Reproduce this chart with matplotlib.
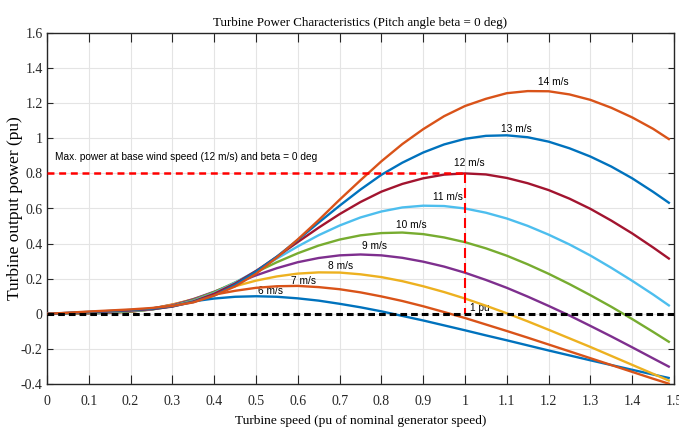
import matplotlib
matplotlib.use("Agg")
import matplotlib.pyplot as plt
from matplotlib import font_manager

# turbine speed (pu) at which the curves were read
speed = [0.00, 0.05, 0.10, 0.15, 0.20, 0.25, 0.30, 0.35, 0.40, 0.45,
         0.50, 0.55, 0.60, 0.65, 0.70, 0.75, 0.80, 0.85, 0.90, 0.95,
         1.00, 1.05, 1.10, 1.15, 1.20, 1.25, 1.30, 1.35, 1.40, 1.45, 1.49]

# turbine output power (pu) per wind speed
p6 = [0, 0.001, 0.002, 0.005, 0.014, 0.030, 0.051, 0.071, 0.087, 0.097,
      0.100, 0.097, 0.088, 0.075, 0.057, 0.037, 0.014, -0.012, -0.038, -0.066,
      -0.094, -0.123, -0.151, -0.180, -0.209, -0.237, -0.265, -0.292, -0.319, -0.346, -0.367]
p7 = [0, 0.002, 0.003, 0.006, 0.013, 0.029, 0.053, 0.081, 0.109, 0.131,
      0.148, 0.157, 0.159, 0.152, 0.140, 0.122, 0.099, 0.073, 0.043, 0.010,
      -0.024, -0.061, -0.098, -0.136, -0.175, -0.214, -0.253, -0.292, -0.331, -0.370, -0.400]
p8 = [0, 0.002, 0.004, 0.007, 0.012, 0.026, 0.051, 0.084, 0.121, 0.157,
      0.189, 0.213, 0.229, 0.236, 0.235, 0.225, 0.209, 0.186, 0.157, 0.124,
      0.087, 0.046, 0.003, -0.043, -0.091, -0.140, -0.189, -0.240, -0.291, -0.342, -0.383]
p9 = [0, 0.003, 0.005, 0.008, 0.013, 0.025, 0.048, 0.083, 0.126, 0.173,
      0.219, 0.260, 0.294, 0.318, 0.333, 0.338, 0.333, 0.319, 0.297, 0.269,
      0.234, 0.193, 0.148, 0.098, 0.045, -0.010, -0.069, -0.129, -0.191, -0.254, -0.304]
p10 = [0, 0.003, 0.006, 0.010, 0.014, 0.024, 0.044, 0.078, 0.124, 0.179,
       0.237, 0.294, 0.345, 0.389, 0.423, 0.447, 0.460, 0.463, 0.454, 0.435,
       0.408, 0.373, 0.331, 0.282, 0.228, 0.169, 0.106, 0.040, -0.030, -0.103, -0.163]
p11 = [0, 0.004, 0.008, 0.012, 0.017, 0.025, 0.043, 0.073, 0.118, 0.177,
       0.244, 0.315, 0.384, 0.448, 0.503, 0.549, 0.583, 0.606, 0.616, 0.614,
       0.600, 0.576, 0.543, 0.501, 0.451, 0.395, 0.332, 0.262, 0.188, 0.110, 0.044]
p12 = [0, 0.005, 0.009, 0.014, 0.019, 0.026, 0.041, 0.070, 0.114, 0.172,
       0.244, 0.325, 0.409, 0.491, 0.568, 0.637, 0.696, 0.740, 0.772, 0.793,
       0.800, 0.794, 0.774, 0.744, 0.705, 0.656, 0.598, 0.531, 0.458, 0.378, 0.311]
p13 = [0, 0.005, 0.011, 0.016, 0.022, 0.029, 0.043, 0.067, 0.104, 0.165,
       0.240, 0.326, 0.421, 0.520, 0.616, 0.708, 0.792, 0.861, 0.919, 0.965,
       0.997, 1.014, 1.017, 1.006, 0.981, 0.943, 0.896, 0.839, 0.772, 0.695, 0.629]
p14 = [0, 0.006, 0.013, 0.019, 0.025, 0.033, 0.045, 0.065, 0.104, 0.156,
       0.228, 0.321, 0.424, 0.534, 0.650, 0.761, 0.869, 0.967, 1.052, 1.126,
       1.184, 1.225, 1.257, 1.269, 1.268, 1.250, 1.219, 1.174, 1.119, 1.054, 0.992]

wind_labels = ["6 m/s", "7 m/s", "8 m/s", "9 m/s", "10 m/s", "11 m/s", "12 m/s", "13 m/s", "14 m/s"]
label_x = [0.504, 0.584, 0.672, 0.754, 0.834, 0.924, 0.973, 1.085, 1.175]
label_y = [0.129, 0.186, 0.272, 0.385, 0.505, 0.666, 0.860, 1.053, 1.320]

base_speed, base_power = 1.0, 0.8

xticks = [0, 0.1, 0.2, 0.3, 0.4, 0.5, 0.6, 0.7, 0.8, 0.9, 1.0, 1.1, 1.2, 1.3, 1.4, 1.5]
xtick_labels = ["0", "0.1", "0.2", "0.3", "0.4", "0.5", "0.6", "0.7", "0.8", "0.9",
                "1", "1.1", "1.2", "1.3", "1.4", "1.5"]
yticks = [-0.4, -0.2, 0, 0.2, 0.4, 0.6, 0.8, 1.0, 1.2, 1.4, 1.6]
ytick_labels = ["-0.4", "-0.2", "0", "0.2", "0.4", "0.6", "0.8", "1", "1.2", "1.4", "1.6"]

COLORS = ["#0072BD", "#D95319", "#EDB120", "#7E2F8E", "#77AC30",
          "#4DBEEE", "#A2142F", "#0072BD", "#D95319"]

installed = {f.name for f in font_manager.fontManager.ttflist}
if "Liberation Sans Narrow" in installed:
    SANS, SANS_SIZE = "Liberation Sans Narrow", 8.5
else:
    SANS, SANS_SIZE = "Liberation Sans", 7.3
SERIF = "Liberation Serif"
AX_COLOR = "#262626"

plt.rcParams["lines.scale_dashes"] = False

fig = plt.figure(figsize=(6.79, 4.32), dpi=100)
ax = fig.add_axes([47 / 679, 1 - 384 / 432, 627 / 679, 351 / 432])

series = [p6, p7, p8, p9, p10, p11, p12, p13, p14]
for vals, col in zip(series, COLORS):
    ax.plot(speed, vals, color=col, lw=1.7, zorder=3, solid_capstyle="butt")

for txt, lx, ly in zip(wind_labels, label_x, label_y):
    ax.text(lx, ly, txt, family=SANS, fontsize=SANS_SIZE, ha="left", va="center", zorder=2)
ax.text(0.02, 0.895, "Max. power at base wind speed (12 m/s) and beta = 0 deg",
        family=SANS, fontsize=SANS_SIZE, ha="left", va="center", zorder=2)
ax.text(1.013, 0.034, "1 pu", family=SANS, fontsize=SANS_SIZE, ha="left", va="center", zorder=2)

# reference lines: max power at base wind speed, and zero power
ax.plot([0, base_speed], [base_power, base_power], color="red", lw=1.8,
        dashes=(5, 3.4), zorder=4)
ax.plot([base_speed, base_speed], [base_power, 0], color="red", lw=1.5,
        dashes=(7.2, 3.6), zorder=4)
ax.plot([0, 1.5], [0, 0], color="black", lw=2.2, dashes=(4.8, 2.9), zorder=4)

ax.set_xlim(0, 1.5)
ax.set_ylim(-0.4, 1.6)
ax.set_xticks(xticks)
ax.set_xticklabels(xtick_labels)
ax.set_yticks(yticks)
ax.set_yticklabels(ytick_labels)
for lab in ax.get_xticklabels() + ax.get_yticklabels():
    lab.set_family(SERIF)
    lab.set_fontsize(10)
    lab.set_color(AX_COLOR)

ax.grid(True, color="#e4e4e4", lw=0.8)
ax.set_axisbelow(True)
ax.tick_params(axis="x", direction="in", top=True, length=6.5, width=0.8, pad=8, color=AX_COLOR)
ax.tick_params(axis="y", direction="in", right=True, length=4.3, width=0.8, pad=3, color=AX_COLOR)
for sp in ax.spines.values():
    sp.set_color(AX_COLOR)
    sp.set_linewidth(1.0)

ax.set_title("Turbine Power Characteristics (Pitch angle beta = 0 deg)",
             family=SERIF, fontsize=9.4, pad=5)
ax.set_xlabel("Turbine speed (pu of nominal generator speed)", family=SERIF, fontsize=9.6)
ax.xaxis.set_label_coords(0.5, -0.088)
ax.set_ylabel("Turbine output power (pu)", family=SERIF, fontsize=12.5)
ax.yaxis.set_label_coords(-0.038, 0.5)

fig.savefig("out.png", dpi=100)
